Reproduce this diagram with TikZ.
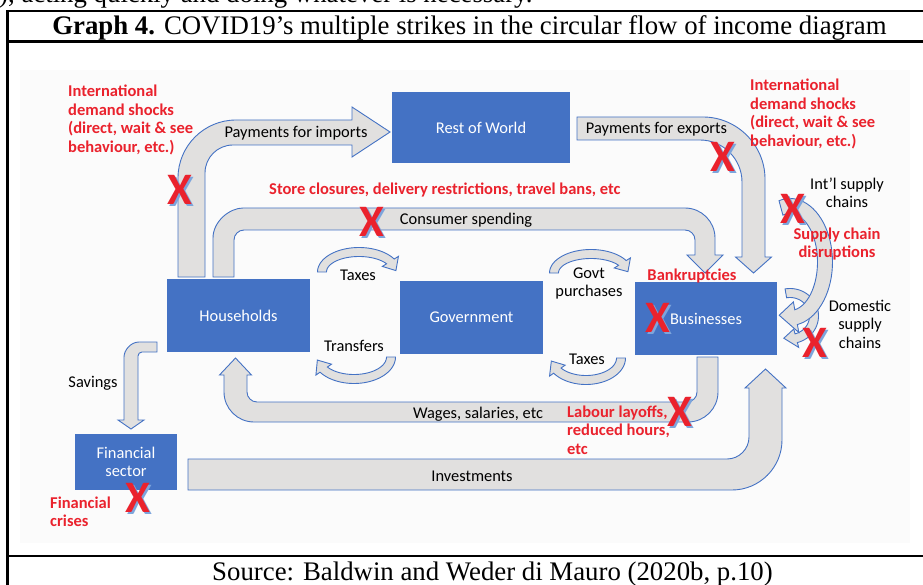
\documentclass[tikz,border=0pt]{standalone}
\usepackage{fontspec}
\setmainfont{Liberation Serif}
\newfontfamily\calfont{Carlito}
\usetikzlibrary{calc}
\definecolor{boxblue}{HTML}{4472C4}
\definecolor{arrowfill}{HTML}{E1E0DF}
\definecolor{arrowline}{HTML}{4472C4}
\definecolor{xred}{RGB}{234,34,45}
\definecolor{xblue}{RGB}{125,165,220}
\definecolor{bgfaint}{RGB}{251,251,251}
\tikzset{
 box/.style={fill=boxblue,draw=none,text=white,font=\calfont\fontsize{16.4}{18.5}\selectfont,align=center,inner sep=0pt},
 lbl/.style={font=\calfont\fontsize{16.4}{18.5}\selectfont,text=black,align=center,inner sep=0pt},
 redlbl/.style={font=\calfont\bfseries\fontsize{16.5}{18.5}\selectfont,text=xred,align=left,inner sep=0pt},
 flow/.style={fill=arrowfill,draw=arrowline,line width=0.9pt,line join=miter},
 xmk/.style={font=\calfont\bfseries\fontsize{45}{45}\selectfont,inner sep=0pt},
 frameline/.style={line width=2.2pt,draw=black},
 serif/.style={font=\fontsize{26.8}{30}\selectfont,inner sep=0pt},
}
\newcommand\xmark[3]{%
 \node[xmk,text=xblue] (#3s) at ({#1+1.8},{#2+1.8}) {X};
 \node[xmk,text=xred] (#3) at (#1,#2) {X};}
% cx cy rx ry w t1 tb t2 h
\newcommand\bandarrow[9]{%
 \pgfmathsetmacro\bAro{#3+#5/2}\pgfmathsetmacro\bAso{#4+#5/2}%
 \pgfmathsetmacro\bAri{#3-#5/2}\pgfmathsetmacro\bAsi{#4-#5/2}%
 \pgfmathsetmacro\bArh{#3+#5/2+#9}\pgfmathsetmacro\bAsh{#4+#5/2+#9}%
 \pgfmathsetmacro\bArk{#3-#5/2-#9}\pgfmathsetmacro\bAsk{#4-#5/2-#9}%
 \draw[flow] plot[domain=#6:#7,samples=40] ({#1+\bAro*cos(\x)},{#2-\bAso*sin(\x)})
   -- ({#1+\bArh*cos(#7)},{#2-\bAsh*sin(#7)})
   -- ({#1+#3*cos(#8)},{#2-#4*sin(#8)})
   -- ({#1+\bArk*cos(#7)},{#2-\bAsk*sin(#7)})
   -- plot[domain=#7:#6,samples=40] ({#1+\bAri*cos(\x)},{#2-\bAsi*sin(\x)}) -- cycle;}
\begin{document}
\begin{tikzpicture}[x=1pt,y=-1pt]
\useasboundingbox (0,0) rectangle (923,585);
\clip (0,0) rectangle (923,585);
\fill[white] (0,0) rectangle (923,585);
\fill[bgfaint] (20,70) rectangle (910,543);
% cut-off line of text above the table
\node[serif,anchor=base west] (prev) at (-1,3) {), acting quickly and doing whatever is necessary.};
% table frame
\draw[frameline,line join=miter] (7.5,585) -- (7.5,11) -- (923,11);
\draw[frameline] (7.5,41.5) -- (923,41.5);
\draw[frameline] (7.5,556) -- (923,556);
\node[serif,anchor=base] (title) at (469.5,35) {\textbf{Graph 4.} COVID19’s multiple strikes in the circular flow of income diagram};
\node[serif,anchor=base] (source) at (492.5,580) {Source: Baldwin and Weder di Mauro (2020b, p.10)};

% ---- big flow arrows ----
% payments for imports
\draw[flow] (178,277) -- (178,178) .. controls (178,146) and (204,120) .. (236,120) -- (352,120) -- (352,107) -- (390,132) -- (352,157) -- (352,145) -- (233,145) .. controls (217.5,145) and (205,157.5) .. (205,173) -- (205,277) -- cycle;
% consumer spending
\draw[flow] (213,277) -- (213,238) .. controls (213,221.5) and (229.5,208) .. (243,208) -- (685,208) .. controls (701.5,208) and (715,221.5) .. (715,238) -- (715,255) -- (723,255) -- (705,273) -- (687,255) -- (695,255) -- (695,240) .. controls (695,234.5) and (690.5,230) .. (685,230) -- (244,230) .. controls (238.5,230) and (234,234.5) .. (234,240) -- (234,277) -- cycle;
% payments for exports
\draw[flow] (577,117) -- (703,117) .. controls (737,117) and (765,145) .. (765,179) -- (765,257) -- (771.5,257) -- (753.5,273) -- (735.5,257) -- (742,257) -- (742,182) .. controls (742,159) and (723,140) .. (700,140) -- (577,140) -- cycle;
% wages
\draw[flow] (718,357) -- (718,392) .. controls (718,408.5) and (704.5,422) .. (688,422) -- (254,422) .. controls (237.5,422) and (224,408.5) .. (224,392) -- (224,375) -- (219.5,375) -- (235.5,358) -- (251.5,375) -- (247,375) -- (247,392) .. controls (247,397.5) and (251.5,402) .. (257,402) -- (687,402) .. controls (692.5,402) and (697,397.5) .. (697,392) -- (697,357) -- cycle;
% investments
\draw[flow] (188,459) -- (727,459) .. controls (739.1,459) and (749,449.1) .. (749,437) -- (749,388) -- (745,388) -- (765.5,369) -- (786,388) -- (782,388) -- (782,440) .. controls (782,467.5) and (759.5,490) .. (732,490) -- (188,490) -- cycle;
% savings
\draw[flow] (157,342) -- (139,342) .. controls (130.7,342) and (124,350.3) .. (124,357) -- (124,420) -- (118,420) -- (131,429) -- (144,420) -- (138,420) -- (138,356) .. controls (138,353.8) and (139.8,352) .. (142,352) -- (157,352) -- cycle;

% ---- small curved arrows ----
\bandarrow{359}{272}{37}{20}{9}{180}{32}{4}{5}
\bandarrow{354}{357}{37}{22}{9}{0}{-145}{-172}{5}
\bandarrow{591}{273}{37}{19}{9}{180}{32}{4}{5}
\bandarrow{586}{358}{35}{22}{9}{0}{-145}{-172}{5}
% supply chains
\bandarrow{790}{316}{24}{23}{9}{100}{-75}{-105}{5}
\bandarrow{790}{262}{35}{56}{15}{105}{-80}{-108}{8}

% ---- boxes ----
\node[box,minimum width=178pt,minimum height=71pt] (row) at (481,127.5) {Rest of World};
\node[box,minimum width=143pt,minimum height=73pt] (hh) at (238.5,315.5) {Households};
\node[box,minimum width=143pt,minimum height=73pt] (gov) at (471.5,317.5) {Government};
\node[box,minimum width=142pt,minimum height=73pt] (bus) at (706,318.5) {Businesses};
\node[box,minimum width=102pt,minimum height=56pt] (fin) at (126,462) {Financial\\sector};

% ---- black labels ----
\node[lbl] (limp) at (296,133) {Payments for imports};
\node[lbl] (lexp) at (656.5,129) {Payments for exports};
\node[lbl] (lcons) at (466,220) {Consumer spending};
\node[lbl] (ltax1) at (358,275) {Taxes};
\node[lbl] (ltrans) at (354,346) {Transfers};
\node[lbl] (lgp) at (589,284) {\strut Govt\\\strut purchases};
\node[lbl] (ltax2) at (587,359) {Taxes};
\node[lbl] (lwage) at (478,414) {Wages, salaries, etc};
\node[lbl] (linv) at (472,476) {Investments};
\node[lbl] (lsav) at (93,383) {Savings};
\node[lbl] (lint) at (847,195) {\strut Int’l supply\\\strut chains};
\node[lbl] (ldom) at (860,326) {\strut Domestic\\\strut supply\\\strut chains};

% ---- red labels ----
\node[redlbl,anchor=west] (rdl) at (68,121) {\strut International\\\strut demand shocks\\\strut (direct, wait \& see\\\strut behaviour, etc.)};
\node[redlbl,anchor=west] (rdr) at (750,115) {\strut International\\\strut demand shocks\\\strut (direct, wait \& see\\\strut behaviour, etc.)};
\node[redlbl,anchor=west] (rstore) at (269,190) {Store closures, delivery restrictions, travel bans, etc};
\node[redlbl,align=center] (rsup) at (837,245) {\strut Supply chain\\\strut disruptions};
\node[redlbl] (rbank) at (692,276) {Bankruptcies};
\node[redlbl,anchor=west] (rlab) at (567,432) {\strut Labour layoffs,\\\strut reduced hours,\\\strut etc};
\node[redlbl,anchor=west] (rfin) at (50,514) {\strut Financial\\\strut crises};

% ---- X marks ----
\xmark{180}{190}{x1}
\xmark{372}{222}{x2}
\xmark{723}{157}{x3}
\xmark{793}{209}{x4}
\xmark{658}{318}{x5}
\xmark{815}{343}{x6}
\xmark{680}{412}{x7}
\xmark{138}{498}{x8}
\end{tikzpicture}
\end{document}
